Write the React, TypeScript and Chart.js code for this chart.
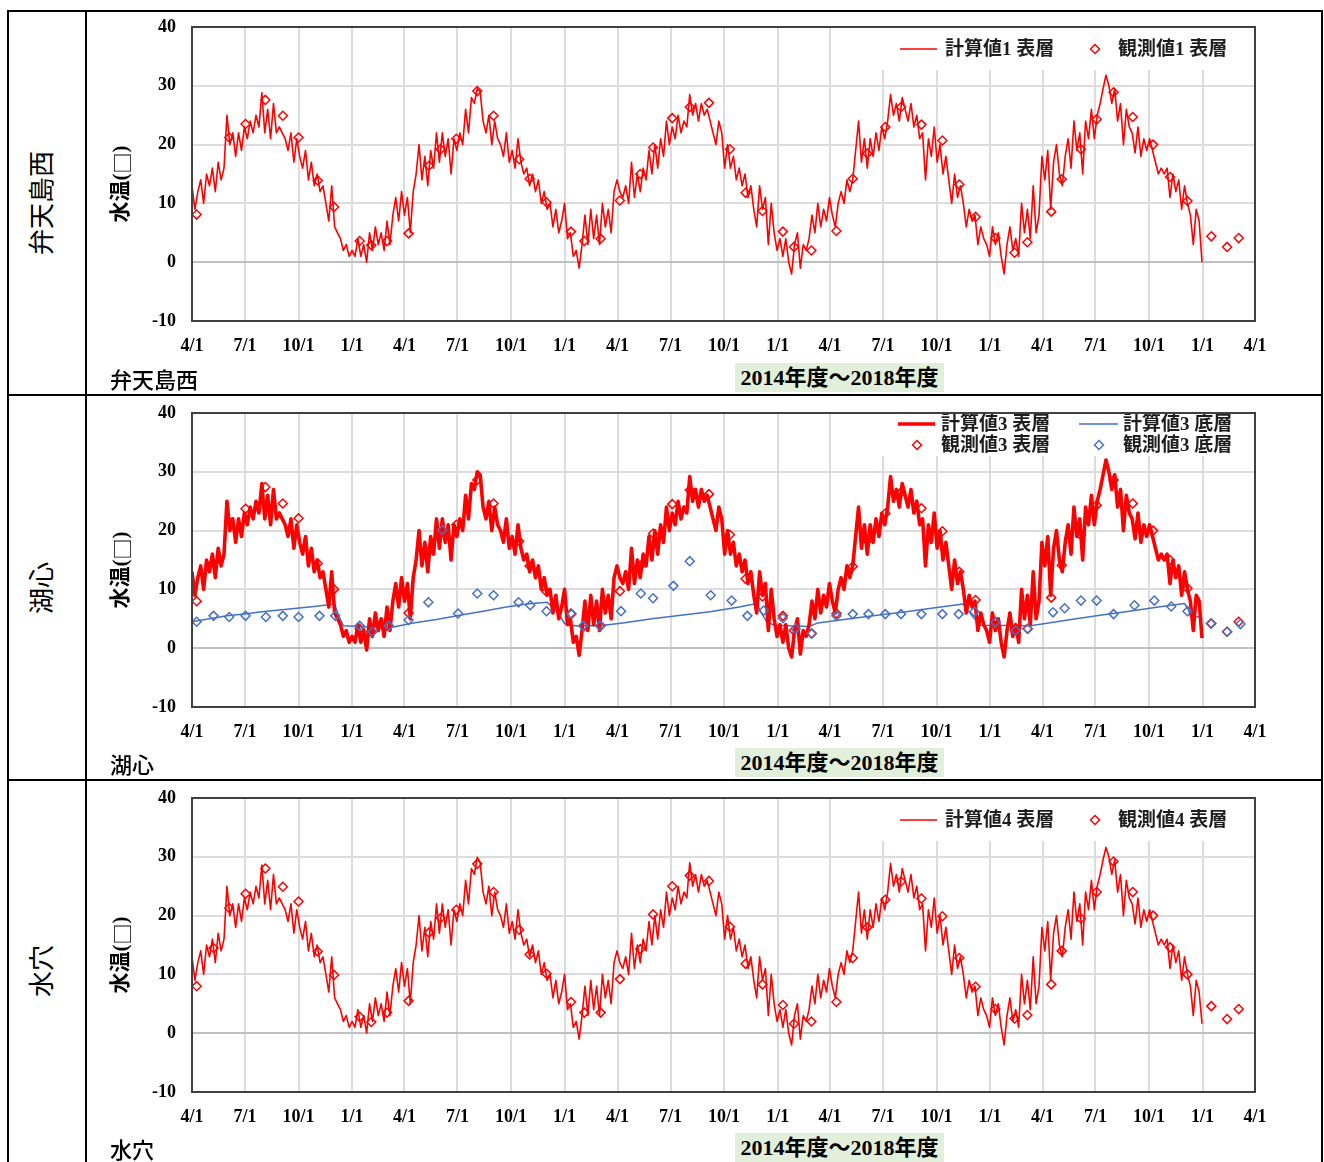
import React, { useEffect, useRef } from 'react';
import { Chart, registerables } from 'chart.js';

Chart.register(...registerables);

// ---------------- data ----------------
// day offsets from 2014-04-01 for the quarter ticks
const TICK_DAYS = [0, 91, 183, 275, 365, 456, 548, 640, 731, 822, 914, 1006, 1096, 1187, 1279, 1371, 1461, 1552, 1644, 1736, 1826];
const TICK_LABELS = ['4/1', '7/1', '10/1', '1/1', '4/1', '7/1', '10/1', '1/1', '4/1', '7/1', '10/1', '1/1', '4/1', '7/1', '10/1', '1/1', '4/1', '7/1', '10/1', '1/1', '4/1'];

// computed surface temperature, one value every STEP_DAYS days from 2014-04-01
const STEP_DAYS = 5;

const SURF1 = [
  13, 9, 12, 14, 10, 15, 13, 16, 12, 17,
  14, 16, 25, 20, 22, 18, 22, 19, 23, 21,
  24, 22, 25, 23, 28.8, 22, 26, 21, 27, 22,
  23, 22, 21, 19, 22, 17, 21, 18, 16, 19,
  14, 17, 13, 15, 12, 13, 10, 7, 13, 6,
  5, 4, 2, 3, 1, 2, 1, 4, 1, 3,
  0, 5, 2, 6, 3, 5, 2, 7, 3, 8,
  11, 7, 12, 8, 11, 5, 12, 15, 20, 14,
  18, 13, 19, 16, 22, 17, 22, 18, 21, 15,
  21, 19, 22, 20, 26, 22, 28, 27, 29.5, 29,
  24, 22, 25, 20, 24, 21, 20, 18, 22, 17,
  19, 16, 21, 17, 15, 16, 13, 15, 12, 14,
  10, 12, 9, 10, 6, 9, 5, 7, 10, 4,
  5, 1, 2, -1, 3, 8, 3, 9, 4, 8,
  3, 10, 6, 9, 5, 12, 14, 12, 11, 13,
  10, 17, 11, 15, 12, 16, 14, 19, 15, 20,
  16, 21, 18, 24, 20, 23, 21, 25, 22, 24,
  23, 28.5, 25, 27, 24, 27, 25, 26, 24, 22,
  20, 24, 22, 16, 20, 16, 18, 14, 16, 13,
  15, 11, 13, 9, 6, 13, 9, 11, 3, 10,
  5, 2, 4, 1, 4, 0, -2, 3, 5, -1,
  3, 2, 4, 8, 5, 10, 6, 9, 7, 11,
  8, 6, 10, 12, 10, 14, 12, 14, 19, 24,
  17, 21, 16, 21, 18, 22, 19, 23, 21, 24,
  28.5, 25, 27, 24, 28, 26, 24, 27, 23, 25,
  21, 22, 14, 21, 18, 23, 17, 20, 15, 18,
  14, 10, 15, 11, 13, 10, 6, 9, 7, 8,
  3, 6, 4, 3, 1, 6, 3, 5, 1, -2,
  3, 6, 2, 4, 1, 10, 5, 9, 4, 13,
  5, 8, 18, 14, 19, 9, 17, 20, 15, 13,
  18, 21, 16, 24, 19, 22, 15, 24, 21, 26,
  21, 25, 27, 29.5, 31.8, 30, 27, 29.5, 24, 27,
  20, 26, 23, 22, 18.6, 23, 18, 21, 19, 21,
  19, 17, 15, 16, 15, 16, 11, 15, 12, 14,
  9, 13, 10, 8, 3, 9, 7, 0,
];

const SURF3 = [
  13, 9, 12, 14, 10, 15, 13, 16, 12, 17,
  14, 16, 25, 20, 22, 18, 22, 19, 23, 21,
  24, 22, 25, 23, 28.0, 22, 26, 21, 27, 22,
  23, 22, 21, 19, 22, 17, 21, 18, 16, 19,
  14, 17, 13, 15, 12, 13, 10, 7, 13, 6,
  5, 4, 2, 3, 1, 2, 1, 4, 1, 3,
  -0.3, 5, 2, 6, 3, 5, 2, 7, 3, 8,
  11, 7, 12, 8, 11, 5, 12, 15, 20, 14,
  18, 13, 19, 16, 22, 17, 22, 18, 21, 15,
  21, 19, 22, 20, 26, 22, 28, 27, 30.0, 29.5,
  24, 22, 25, 20, 24, 21, 20, 18, 22, 17,
  19, 16, 21, 17, 15, 16, 13, 15, 12, 14,
  10, 12, 9, 10, 6, 9, 5, 7, 10, 4,
  5, 1, 2, -1.2, 3, 8, 3, 9, 4, 8,
  3, 10, 6, 9, 5, 12, 14, 12, 11, 13,
  10, 17, 11, 15, 12, 16, 14, 19, 15, 20,
  16, 21, 18, 24, 20, 23, 21, 25, 22, 24,
  23, 29.2, 25, 27, 24, 27, 25, 26, 24, 22,
  20, 24, 22, 16, 20, 16, 18, 14, 16, 13,
  15, 11, 13, 9, 6, 13, 9, 11, 3, 10,
  5, 2, 4, 1, 4, 0, -1.5, 3, 5, -1,
  3, 2, 4, 8, 5, 10, 6, 9, 7, 11,
  8, 6, 10, 12, 10, 14, 12, 14, 19, 24,
  17, 21, 16, 21, 18, 22, 19, 23, 21, 24,
  29.2, 25, 27, 24, 28, 26, 24, 27, 23, 25,
  21, 22, 14, 21, 18, 23, 17, 20, 15, 18,
  14, 10, 15, 11, 13, 10, 6, 9, 7, 8,
  3, 6, 4, 3, 1, 6, 3, 5, 1, -1.5,
  3, 6, 2, 4, 1, 10, 5, 9, 4, 13,
  5, 8, 18, 14, 19, 9, 17, 20, 15, 13,
  18, 21, 16, 24, 19, 22, 15, 24, 21, 26,
  21, 25, 27, 29.5, 32.0, 30, 27, 29.5, 24, 27,
  20, 26, 23, 22, 18.6, 23, 18, 21, 19, 21,
  19, 17, 15, 16, 15, 16, 11, 15, 12, 14,
  9, 13, 10, 8, 3, 9, 8, 1.7,
];

const SURF4 = [
  13, 9, 12, 14, 10, 15, 13, 16, 12, 17,
  14, 16, 25, 20, 22, 18, 22, 19, 23, 21,
  24, 22, 25, 23, 28.6, 22, 26, 21, 27, 22,
  23, 22, 21, 19, 22, 17, 21, 18, 16, 19,
  14, 17, 13, 15, 12, 13, 10, 7, 13, 6,
  5, 4, 2, 3, 1, 2, 1, 4, 1, 3,
  0, 5, 2, 6, 3, 5, 2, 7, 3, 8,
  11, 7, 12, 8, 11, 5, 12, 15, 20, 14,
  18, 13, 19, 16, 22, 17, 22, 18, 21, 15,
  21, 19, 22, 20, 26, 22, 28, 27, 29.9, 29,
  24, 22, 25, 20, 24, 21, 20, 18, 22, 17,
  19, 16, 21, 17, 15, 16, 13, 15, 12, 14,
  10, 12, 9, 10, 6, 9, 5, 7, 10, 4,
  5, 1, 2, -1, 3, 8, 3, 9, 4, 8,
  3, 10, 6, 9, 5, 12, 14, 12, 11, 13,
  10, 17, 11, 15, 12, 16, 14, 19, 15, 20,
  16, 21, 18, 24, 20, 23, 21, 25, 22, 24,
  23, 29.0, 25, 27, 24, 27, 25, 26, 24, 22,
  20, 24, 22, 16, 20, 16, 18, 14, 16, 13,
  15, 11, 13, 9, 6, 13, 9, 11, 3, 10,
  5, 2, 4, 1, 4, 0, -2, 3, 5, -1,
  3, 2, 4, 8, 5, 10, 6, 9, 7, 11,
  8, 6, 10, 12, 10, 14, 12, 14, 19, 24,
  17, 21, 16, 21, 18, 22, 19, 23, 21, 24,
  28.9, 25, 27, 24, 28, 26, 24, 27, 23, 25,
  21, 22, 14, 21, 18, 23, 17, 20, 15, 18,
  14, 10, 15, 11, 13, 10, 6, 9, 7, 8,
  3, 6, 4, 3, 1, 6, 3, 5, 1, -2,
  3, 6, 2, 4, 1, 10, 5, 9, 4, 13,
  5, 8, 18, 14, 19, 9, 17, 20, 15, 13,
  18, 21, 16, 24, 19, 22, 15, 24, 21, 26,
  21, 25, 27, 29.5, 31.6, 30, 27, 29.5, 24, 27,
  20, 26, 23, 22, 18.6, 23, 18, 21, 19, 21,
  19, 17, 15, 16, 15, 16, 11, 15, 12, 14,
  9, 13, 10, 8, 3, 9, 7, 1.6,
];

// computed bottom-layer temperature at 湖心 (day offset, value)
const BOTTOM3_DAYS = [0, 30, 60, 90, 120, 150, 180, 210, 245, 252, 260, 300, 346, 380, 420, 460, 500, 540, 575, 610, 625, 640, 650, 700, 740, 790, 840, 890, 940, 970, 978, 987, 1000, 1060, 1075, 1120, 1170, 1220, 1270, 1325, 1340, 1354, 1440, 1480, 1510, 1560, 1610, 1660, 1705, 1712, 1715, 1732];
const BOTTOM3_VALS = [4.5, 5.0, 5.5, 5.8, 6.2, 6.5, 6.8, 7.1, 7.5, 5.5, 3.8, 3.6, 3.6, 4.3, 4.9, 5.6, 6.3, 7.0, 7.5, 7.8, 6.5, 4.2, 3.8, 3.8, 4.3, 5.0, 5.6, 6.2, 7.0, 7.6, 6.0, 4.5, 3.9, 3.7, 4.3, 4.9, 5.5, 6.1, 6.8, 7.5, 5.5, 3.9, 3.8, 4.4, 4.9, 5.6, 6.3, 7.0, 7.6, 6.5, 5.4, 5.3];

// observations
const OBS1_DAYS = [8, 64, 92, 126, 156, 183, 216, 244, 288, 308, 335, 372, 407, 427, 454, 490, 518, 562, 580, 609, 651, 674, 702, 735, 770, 792, 825, 855, 888, 924, 951, 980, 1015, 1034, 1064, 1107, 1135, 1160, 1191, 1218, 1253, 1289, 1318, 1346, 1380, 1413, 1435, 1476, 1494, 1527, 1554, 1583, 1616, 1651, 1680, 1710, 1751, 1778, 1798];
const OBS1_VALS = [8.1, 21.2, 23.5, 27.6, 24.9, 21.2, 13.9, 9.4, 3.6, 2.9, 3.6, 4.9, 16.4, 19.2, 21.0, 29.1, 24.9, 17.5, 14.2, 10.2, 5.2, 3.6, 4.0, 10.5, 15.0, 19.5, 24.5, 26.4, 27.1, 19.2, 11.8, 8.7, 5.2, 2.6, 2.0, 5.3, 14.2, 18.5, 23.0, 26.4, 23.4, 20.7, 13.2, 7.7, 4.1, 1.6, 3.4, 8.6, 14.1, 19.2, 24.3, 28.9, 24.7, 20.0, 14.5, 10.4, 4.4, 2.6, 4.1];

const OBS_DAYS = [8, 37, 64, 92, 126, 156, 183, 216, 244, 288, 308, 335, 372, 407, 427, 454, 490, 518, 562, 580, 609, 651, 674, 702, 735, 770, 792, 825, 855, 888, 924, 951, 980, 1015, 1034, 1064, 1107, 1135, 1160, 1191, 1218, 1253, 1289, 1318, 1346, 1380, 1413, 1435, 1476, 1494, 1527, 1554, 1583, 1616, 1651, 1680, 1710, 1751, 1778, 1798];
const OBS3S_VALS = [8.0, 14.5, 21.5, 23.7, 27.4, 24.6, 22.1, 14.4, 10.0, 3.3, 2.8, 3.8, 6.0, 16.5, 19.5, 21.0, 28.6, 24.6, 18.2, 14.0, 9.6, 5.9, 3.8, 3.8, 9.7, 14.0, 19.5, 24.5, 26.9, 26.2, 19.3, 11.8, 8.8, 5.5, 3.0, 2.5, 5.9, 13.9, 18.3, 22.9, 26.5, 23.8, 19.9, 13.0, 8.2, 4.5, 3.0, 3.3, 8.6, 14.1, 19.2, 24.3, 28.6, 24.6, 20.0, 15.0, 10.2, 4.2, 2.8, 4.5];
const OBS4_VALS = [8.0, 14.5, 21.3, 23.7, 28.0, 24.9, 22.4, 13.9, 9.9, 2.8, 1.9, 3.5, 5.5, 17.1, 19.6, 21.0, 28.8, 24.0, 17.6, 13.4, 10.1, 5.3, 3.5, 3.5, 9.2, 14.3, 20.2, 25.0, 26.8, 25.9, 18.1, 11.8, 8.3, 4.8, 1.6, 2.0, 5.3, 12.8, 18.0, 22.7, 25.8, 22.9, 19.9, 12.8, 7.9, 4.1, 2.5, 3.1, 8.3, 14.0, 19.5, 24.0, 29.2, 24.0, 20.0, 14.6, 10.0, 4.6, 2.4, 4.1];

const OBS3B_DAYS = [8, 37, 64, 92, 127, 156, 183, 219, 246, 288, 310, 338, 372, 406, 430, 457, 490, 518, 561, 581, 609, 652, 672, 701, 737, 771, 792, 827, 855, 891, 927, 954, 982, 1015, 1037, 1065, 1107, 1135, 1162, 1191, 1218, 1253, 1289, 1317, 1344, 1380, 1415, 1436, 1479, 1499, 1527, 1554, 1583, 1619, 1653, 1682, 1710, 1750, 1778, 1801];
const OBS3B_VALS = [4.5, 5.5, 5.3, 5.5, 5.3, 5.5, 5.3, 5.5, 5.5, 3.8, 2.8, 3.8, 4.8, 7.8, 20.1, 5.9, 9.3, 9.0, 7.8, 7.3, 6.3, 5.8, 3.8, 3.8, 6.3, 9.3, 8.5, 10.6, 14.8, 9.0, 8.1, 5.5, 6.4, 5.1, 3.3, 2.5, 5.5, 5.8, 5.8, 5.8, 5.8, 5.8, 5.8, 5.8, 6.2, 4.4, 3.0, 3.3, 6.1, 6.8, 8.1, 8.1, 5.8, 7.3, 8.1, 7.1, 6.3, 4.2, 2.8, 4.1];

// ---------------- styling ----------------
const RED = '#ff0000';
const BLUE = '#4472c4';
const SERIF_CJK = '"Liberation Serif", "Noto Sans CJK JP", serif';
const TICK_FONT = { family: SERIF_CJK, size: 18, weight: 'bold' as const };
const LEGEND_FONT = `bold 19px ${SERIF_CJK}`;
const TITLE_PARTS = [
  { text: '水温(', font: `bold 21px ${SERIF_CJK}` },
  { text: '□', font: '21px "Noto Sans CJK JP", sans-serif' },
  { text: ')', font: `bold 21px ${SERIF_CJK}` },
];

const CANVAS_W = 1232;
const CANVAS_H = 380;
const PLOT_H = 294;

const series = (vals: number[]) => vals.map((v, i) => ({ x: i * STEP_DAYS, y: v }));
const pts = (days: number[], vals: number[]) => days.map((d, i) => ({ x: d, y: vals[i] }));

type LegendItem = { kind: 'line' | 'diamond'; color: string; width: number; x0: number; x1: number; dy: number; text: string; tx: number };

function drawDiamond(ctx: CanvasRenderingContext2D, x: number, y: number, r: number) {
  ctx.beginPath();
  ctx.moveTo(x, y - r);
  ctx.lineTo(x + r, y);
  ctx.lineTo(x, y + r);
  ctx.lineTo(x - r, y);
  ctx.closePath();
  ctx.stroke();
}

function makeDecor(items: LegendItem[]) {
  return {
    id: 'decor',
    afterDraw(chart: any) {
      const { ctx, chartArea: ca } = chart;
      ctx.save();
      // legend box
      const boxW = 377;
      ctx.fillStyle = '#ffffff';
      ctx.fillRect(ca.right - boxW, ca.top, boxW, 43);
      ctx.textBaseline = 'middle';
      ctx.textAlign = 'left';
      for (const it of items) {
        const y = ca.top + it.dy;
        ctx.strokeStyle = it.color;
        ctx.lineWidth = it.width;
        if (it.kind === 'line') {
          ctx.beginPath();
          ctx.moveTo(ca.right + it.x0, y);
          ctx.lineTo(ca.right + it.x1, y);
          ctx.stroke();
        } else {
          drawDiamond(ctx, ca.right + it.x0, y, 4.5);
        }
        ctx.fillStyle = '#1e1e1e';
        ctx.font = LEGEND_FONT;
        ctx.fillText(it.text, ca.right + it.tx, y + 1);
      }
      // plot frame
      ctx.strokeStyle = '#404040';
      ctx.lineWidth = 2;
      ctx.strokeRect(ca.left, ca.top, ca.right - ca.left, ca.bottom - ca.top);
      // y axis title (rotated)
      ctx.translate(ca.left - 70, ca.top + 157);
      ctx.rotate(-Math.PI / 2);
      ctx.textAlign = 'left';
      ctx.textBaseline = 'middle';
      ctx.fillStyle = '#000000';
      let total = 0;
      for (const p of TITLE_PARTS) {
        ctx.font = p.font;
        total += ctx.measureText(p.text).width;
      }
      let x = -total / 2;
      for (const p of TITLE_PARTS) {
        ctx.font = p.font;
        ctx.fillText(p.text, x, 0);
        x += ctx.measureText(p.text).width;
      }
      ctx.restore();
    },
  };
}

type Row = { key: string; top: number; plotTop: number; name: string; datasets: any[]; legend: LegendItem[] };

const obsStyle = (color: string) => ({
  type: 'line',
  showLine: false,
  pointStyle: 'rectRot',
  pointRadius: 4.5,
  pointBorderWidth: 1.5,
  pointBorderColor: color,
  pointBackgroundColor: 'rgba(0,0,0,0)',
});
const lineStyle = (color: string, width: number) => ({
  type: 'line',
  borderColor: color,
  borderWidth: width,
  pointRadius: 0,
  tension: 0,
  borderJoinStyle: 'round',
  fill: false,
});

const singleLegend = (n: string): LegendItem[] => [
  { kind: 'line', color: RED, width: 1.6, x0: -355, x1: -318, dy: 22, text: `計算値${n} 表層`, tx: -310 },
  { kind: 'diamond', color: RED, width: 1.5, x0: -160, x1: 0, dy: 22, text: `観測値${n} 表層`, tx: -137 },
];

const ROWS: Row[] = [
  {
    key: 'r1', top: 10, plotTop: 15, name: '弁天島西',
    datasets: [
      { ...obsStyle(RED), label: '観測値1 表層', data: pts(OBS1_DAYS, OBS1_VALS), order: 0 },
      { ...lineStyle(RED, 1.6), label: '計算値1 表層', data: series(SURF1), order: 1 },
    ],
    legend: singleLegend('1'),
  },
  {
    key: 'r2', top: 395, plotTop: 16, name: '湖心',
    datasets: [
      { ...obsStyle(RED), label: '観測値3 表層', data: pts(OBS_DAYS, OBS3S_VALS), order: 1 },
      { ...obsStyle(BLUE), label: '観測値3 底層', data: pts(OBS3B_DAYS, OBS3B_VALS), order: 0 },
      { ...lineStyle(RED, 3.6), label: '計算値3 表層', data: series(SURF3), order: 2 },
      { ...lineStyle(BLUE, 1.5), label: '計算値3 底層', data: pts(BOTTOM3_DAYS, BOTTOM3_VALS), order: 3 },
    ],
    legend: [
      { kind: 'line', color: RED, width: 3.6, x0: -357, x1: -320, dy: 11, text: '計算値3 表層', tx: -314 },
      { kind: 'line', color: BLUE, width: 1.5, x0: -176, x1: -137, dy: 11, text: '計算値3 底層', tx: -132 },
      { kind: 'diamond', color: RED, width: 1.5, x0: -338, x1: 0, dy: 32, text: '観測値3 表層', tx: -314 },
      { kind: 'diamond', color: BLUE, width: 1.5, x0: -156, x1: 0, dy: 32, text: '観測値3 底層', tx: -132 },
    ],
  },
  {
    key: 'r3', top: 780, plotTop: 16, name: '水穴',
    datasets: [
      { ...obsStyle(RED), label: '観測値4 表層', data: pts(OBS_DAYS, OBS4_VALS), order: 0 },
      { ...lineStyle(RED, 1.6), label: '計算値4 表層', data: series(SURF4), order: 1 },
    ],
    legend: singleLegend('4'),
  },
];

function buildConfig(row: Row): any {
  const gridColor = (c: any) => (c.tick && c.tick.value === 0 ? '#bfbfbf' : '#dcdcdc');
  return {
    type: 'line',
    data: { datasets: row.datasets },
    options: {
      responsive: false,
      maintainAspectRatio: false,
      devicePixelRatio: 1,
      animation: false,
      events: [],
      layout: { padding: { top: row.plotTop, right: 65, bottom: 0, left: 0 } },
      plugins: { legend: { display: false }, tooltip: { enabled: false }, title: { display: false } },
      scales: {
        x: {
          type: 'linear',
          min: 0,
          max: 1826,
          afterBuildTicks: (s: any) => {
            s.ticks = TICK_DAYS.map((v) => ({ value: v }));
          },
          afterFit: (s: any) => {
            s.height = CANVAS_H - row.plotTop - PLOT_H;
            s.paddingLeft = 0;
            s.paddingRight = 0;
          },
          ticks: {
            autoSkip: false,
            maxRotation: 0,
            minRotation: 0,
            padding: 15,
            color: '#000000',
            font: TICK_FONT,
            callback: (_v: any, i: number) => TICK_LABELS[i],
          },
          grid: { color: '#dcdcdc', lineWidth: 2, drawTicks: false },
          border: { display: false },
        },
        y: {
          min: -10,
          max: 40,
          afterFit: (s: any) => {
            s.width = 104;
            s.paddingTop = 0;
            s.paddingBottom = 0;
          },
          ticks: { stepSize: 10, padding: 16, color: '#000000', font: TICK_FONT },
          grid: { color: gridColor, lineWidth: 2, drawTicks: false },
          border: { display: false },
        },
      },
    },
    plugins: [makeDecor(row.legend)],
  };
}

function ChartPanel({ row }: { row: Row }) {
  const ref = useRef<HTMLCanvasElement | null>(null);
  useEffect(() => {
    if (!ref.current) return;
    const chart = new Chart(ref.current, buildConfig(row));
    return () => chart.destroy();
  }, [row]);
  return (
    <canvas
      ref={ref}
      width={CANVAS_W}
      height={CANVAS_H}
      style={{ position: 'absolute', left: 88, top: row.top + 2, width: CANVAS_W, height: CANVAS_H }}
    />
  );
}

const line = (left: number, top: number, width: number, height: number, key: string) => (
  <div key={key} style={{ position: 'absolute', left, top, width, height, background: '#000' }} />
);

export default function App() {
  return (
    <div style={{ position: 'fixed', left: 0, top: 0, width: 1324, height: 1162, overflow: 'hidden', background: '#fff' }}>
      {line(7, 10, 1316, 2, 'top')}
      {line(7, 394, 1316, 2, 'd1')}
      {line(7, 779, 1316, 2, 'd2')}
      {line(7, 10, 2, 1160, 'left')}
      {line(85, 10, 2, 1160, 'col')}
      {line(1321, 10, 2, 1160, 'right')}
      {ROWS.map((row, i) => {
        const rowBottom = i < ROWS.length - 1 ? ROWS[i + 1].top : 1162;
        const center = (row.top + rowBottom) / 2;
        return (
          <React.Fragment key={row.key}>
            <div
              style={{
                position: 'absolute', left: 40 - 100, top: center - 20, width: 200, height: 40,
                lineHeight: '40px', textAlign: 'center', transform: 'rotate(-90deg)',
                fontFamily: '"Noto Sans CJK JP", sans-serif', fontSize: 26, color: '#000', whiteSpace: 'nowrap',
              }}
            >
              {row.name}
            </div>
            <ChartPanel row={row} />
            <div
              style={{
                position: 'absolute', left: 110, top: row.top + 353, height: 30, lineHeight: '30px',
                fontFamily: '"Noto Sans CJK JP", sans-serif', fontSize: 22, fontWeight: 500, color: '#000', whiteSpace: 'nowrap',
              }}
            >
              {row.name}
            </div>
            <div
              style={{
                position: 'absolute', left: 735, top: row.top + 353, width: 209, height: 29, lineHeight: '29px',
                background: '#e2efda', textAlign: 'center', fontFamily: SERIF_CJK, fontWeight: 'bold', fontSize: 22,
                color: '#000', whiteSpace: 'nowrap',
              }}
            >
              2014年度～2018年度
            </div>
          </React.Fragment>
        );
      })}
    </div>
  );
}
